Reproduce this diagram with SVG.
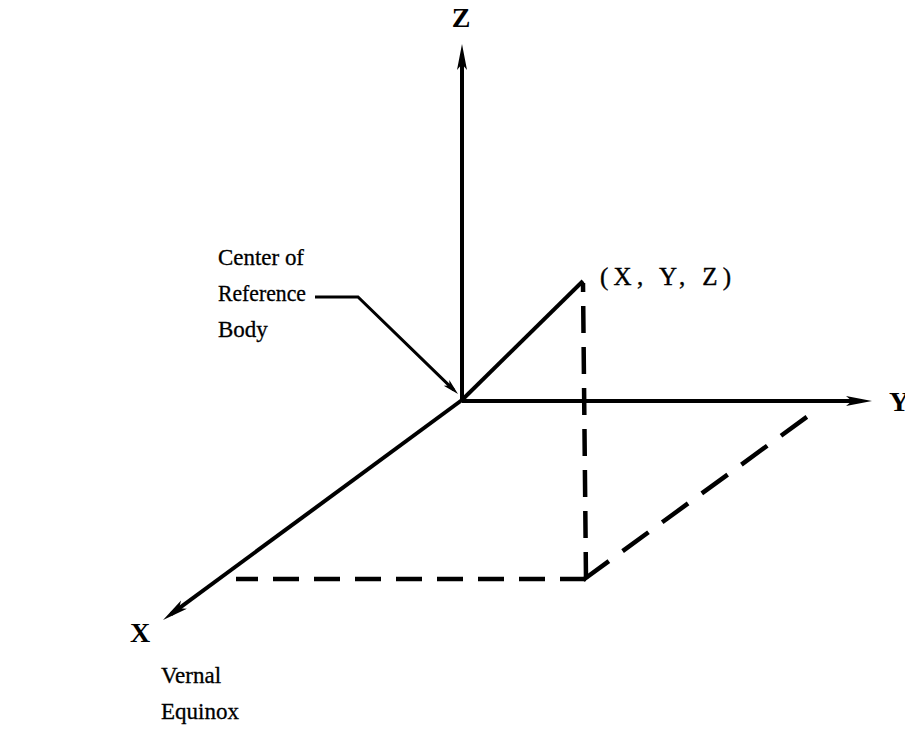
<svg xmlns="http://www.w3.org/2000/svg" width="905" height="738" viewBox="0 0 905 738">
<defs>
<style>
.axis{stroke:#000;stroke-width:4;fill:none}
.dash{stroke:#000;stroke-width:4.5;fill:none}
.lead{stroke:#000;stroke-width:3;fill:none}
.lbl{font-family:"Liberation Serif",serif;font-size:23px;fill:#000;stroke:#000;stroke-width:0.3}
.pt{font-family:"Liberation Serif",serif;font-size:25px;fill:#000;stroke:#000;stroke-width:0.4}
.ax{font-family:"Liberation Serif",serif;font-weight:bold;font-size:28px;fill:#000}
</style>
<marker id="ah" markerUnits="userSpaceOnUse" markerWidth="28" markerHeight="12" refX="16" refY="5" orient="auto">
<path d="M0,0 L26,5 L0,10 L6,5 z" fill="#000"/>
</marker>
<marker id="ahs" markerUnits="userSpaceOnUse" markerWidth="18" markerHeight="10" refX="10" refY="4" orient="auto">
<path d="M0,0 L16,4 L0,8 L4,4 z" fill="#000"/>
</marker>
</defs>
<rect width="905" height="738" fill="#fff"/>
<g id="connectors">
<line id="z-axis" class="axis" x1="462" y1="400" x2="462" y2="54" marker-end="url(#ah)"/>
<line id="y-axis" class="axis" x1="462" y1="401" x2="862" y2="401" marker-end="url(#ah)"/>
<line id="x-axis" class="axis" x1="462" y1="400" x2="171.1" y2="614.1" marker-end="url(#ah)"/>
<line id="radius" class="axis" x1="462" y1="400" x2="583" y2="281"/>
<path id="leader" class="lead" d="M315,297 L358,297 L453.7,389.8" marker-end="url(#ahs)"/>
<line id="drop" class="dash" x1="586" y1="579" x2="583" y2="283" stroke-dasharray="27 14"/>
<line id="proj-x" class="dash" x1="586" y1="579" x2="236" y2="579" stroke-dasharray="26 15"/>
<line id="proj-y" class="dash" x1="583" y1="580" x2="819" y2="408" stroke-dasharray="32 17"/>
</g>
<g id="label-z"><text class="ax" x="461" y="27" text-anchor="middle">Z</text></g>
<g id="label-y"><text class="ax" x="889" y="411" font-weight="normal">Y</text></g>
<g id="label-x"><text class="ax" x="130" y="642">X</text></g>
<g id="label-point"><text class="pt" x="600" y="285" textLength="131" lengthAdjust="spacing">(X, Y, Z)</text></g>
<g id="label-center">
<text class="lbl" x="218" y="265" textLength="86" lengthAdjust="spacingAndGlyphs">Center of</text>
<text class="lbl" x="218" y="301" textLength="88" lengthAdjust="spacingAndGlyphs">Reference</text>
<text class="lbl" x="218" y="337">Body</text>
</g>
<g id="label-vernal">
<text class="lbl" x="161" y="683">Vernal</text>
<text class="lbl" x="161" y="719">Equinox</text>
</g>
</svg>
